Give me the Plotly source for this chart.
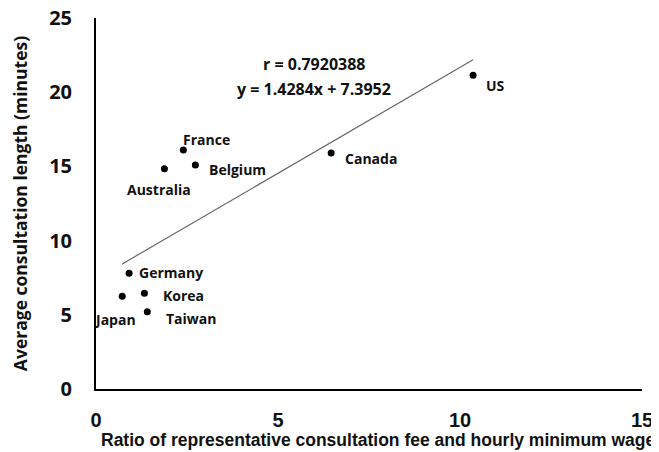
import plotly.graph_objects as go

countries = ["France", "Belgium", "Australia", "Canada", "US", "Germany", "Korea", "Japan", "Taiwan"]
fee_ratio = [2.40, 2.73, 1.88, 6.46, 10.36, 0.91, 1.33, 0.72, 1.41]
consult_min = [16.1, 15.1, 14.85, 15.9, 21.15, 7.8, 6.45, 6.25, 5.2]

slope = 1.4284
intercept = 7.3952
r_text = "r = 0.7920388"
eq_text = "y = 1.4284x + 7.3952"

x_ticks = [0, 5, 10, 15]
y_ticks = [0, 5, 10, 15, 20, 25]

x_title = "Ratio of representative consultation fee and hourly minimum wage"
y_title = "Average consultation length (minutes)"

# label placement (pixel offsets from point, anchors)
label_style = {
    "France": (23, -11, "center"),
    "Belgium": (12, 5, "left"),
    "Australia": (-5, 21, "center"),
    "Canada": (12, 5, "left"),
    "US": (11, 10, "left"),
    "Germany": (8, -1, "left"),
    "Korea": (17, 2, "left"),
    "Japan": (-7, 23, "center"),
    "Taiwan": (17, 7, "left"),
}

font_main = "Open Sans, Noto Sans, sans-serif"
font_arial = "Liberation Sans, Arial, sans-serif"

x_lo, x_hi = min(fee_ratio), max(fee_ratio)

fig = go.Figure()
fig.add_trace(go.Scatter(
    x=[x_lo, x_hi], y=[slope * x_lo + intercept, slope * x_hi + intercept],
    mode="lines", line=dict(color="#666666", width=1.2), hoverinfo="skip",
))
fig.add_trace(go.Scatter(
    x=fee_ratio, y=consult_min, mode="markers",
    marker=dict(color="black", size=7), text=countries,
))

annotations = []
for c, xv, yv in zip(countries, fee_ratio, consult_min):
    dx, dy, anchor = label_style[c]
    annotations.append(dict(
        x=xv, y=yv, xref="x", yref="y", text=c, showarrow=False,
        xshift=dx, yshift=-dy, xanchor=anchor, yanchor="middle",
        font=dict(family=font_main, size=14, color="#111111", weight="bold"),
    ))

annotations.append(dict(x=6.0, y=21.9, xref="x", yref="y", text=r_text, showarrow=False,
                        font=dict(family=font_main, size=16, color="#111111", weight="bold")))
annotations.append(dict(x=6.0, y=20.2, xref="x", yref="y", text=eq_text, showarrow=False,
                        font=dict(family=font_main, size=16, color="#111111", weight="bold")))

# x axis title (offset slightly right of the plot centre as in the original)
annotations.append(dict(x=0.518, y=-0.1375, xref="paper", yref="paper", text=x_title,
                        showarrow=False, xanchor="center", yanchor="middle",
                        font=dict(family=font_arial, size=17.5, color="#111111", weight="bold")))

fig.update_layout(
    width=651, height=444,
    margin=dict(l=88, r=17, t=10, b=63),
    paper_bgcolor="white", plot_bgcolor="white",
    showlegend=False,
    annotations=annotations,
    xaxis=dict(
        range=[0, 15], tickvals=x_ticks, showgrid=False, zeroline=False,
        showline=True, linecolor="black", linewidth=2, automargin=False,
        ticks="", ticklabelstandoff=12, ticklabeloverflow="allow",
        tickfont=dict(family=font_arial, size=20, color="#111111", weight="bold"),
    ),
    yaxis=dict(
        range=[0, 25], tickvals=y_ticks, showgrid=False, zeroline=False,
        showline=True, linecolor="black", linewidth=2, automargin=False,
        ticks="", ticklabelstandoff=18, ticklabeloverflow="allow",
        tickfont=dict(family=font_main, size=20, color="#111111", weight="bold"),
        title=dict(text=y_title,
                   font=dict(family=font_main, size=17.5, color="#111111", weight="bold"),
                   standoff=22),
    ),
)

fig.write_html("out.html")
